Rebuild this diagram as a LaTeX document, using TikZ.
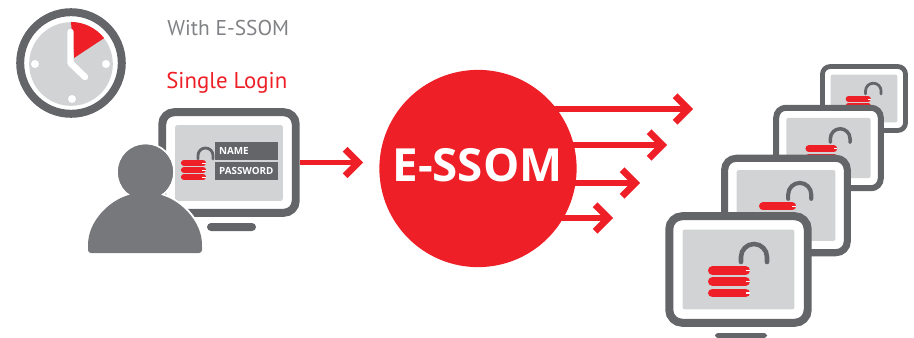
\documentclass[tikz,border=0pt]{standalone}
\usepackage{fontspec}
\setmainfont{PT Sans}
\newfontfamily\boldface{Open Sans}
\usetikzlibrary{arrows.meta}
\definecolor{ssomred}{HTML}{EE1F26}
\definecolor{frameg}{HTML}{636569}
\definecolor{persong}{HTML}{77787B}
\definecolor{screeng}{HTML}{D1D3D4}
\definecolor{textg}{HTML}{808285}
\def\px{0.567pt}
\begin{document}
\begin{tikzpicture}[x=0.02cm,y=-0.02cm,
  monitor/.style={draw=frameg,fill=white,shape=rectangle,inner sep=0pt},
  screen/.style={fill=screeng,shape=rectangle,inner sep=0pt,rounded corners=2*\px},
  field/.style={fill=frameg,text=white,shape=rectangle,inner ysep=0pt,inner xsep=4*\px,text width=55*\px,align=left,minimum height=18*\px,font=\boldface\fontsize{5.6pt}{6pt}\selectfont\bfseries},
  shackle/.style={draw=frameg,line cap=round},
  bar/.style={draw=ssomred,line cap=round},
  flow/.style={draw=ssomred,line width=6*\px,-{Straight Barb[length=7.5pt,width=15pt,line width=3.8pt]}},
  caption/.style={anchor=base west,inner sep=0pt,font=\fontsize{12.2pt}{14pt}\selectfont}]
\useasboundingbox (0,0) rectangle (914,338);

\node[shape=circle,draw=frameg,fill=white,line width=8*\px,inner sep=0pt,minimum size=102*\px] (clockring) at (71,63) {};
\node[shape=circle,fill=screeng,inner sep=0pt,minimum size=84*\px] (clockface) at (71,64) {};
\fill[ssomred] (74,58) -- (71,22) arc[start angle=270,end angle=322,radius=42] -- cycle;
\draw[white,line width=6.5*\px,line cap=round,line join=round] (70.5,32) -- (70.5,63) -- (85,77);
\fill[white] (35,64) circle (4);
\fill[white] (106,64) circle (4);
\fill[white] (72,99) circle (4);

\node[caption,text=textg] (withlabel) at (167,35) {With E-SSOM};
\node[caption,text=ssomred,font=\fontsize{13pt}{15pt}\selectfont] (loginlabel) at (166,89) {Single Login};

\node[monitor,line width=8*\px,minimum width=134*\px,minimum height=101*\px,rounded corners=12*\px] (usermon) at (229,162.5) {};
\node[screen,minimum width=108*\px,minimum height=76*\px] (userscreen) at (229,163) {};
\draw[fill=frameg,draw=none,rounded corners=4*\px] (207,223) rectangle (256,231);
\node[field] (namefield) at (246.5,151) {NAME};
\node[field] (passfield) at (246.5,171) {PASSWORD};
\draw[shackle,line width=2.8*\px] (198,159) -- (198,155.5) arc[start angle=180,end angle=360,radius=7.5] -- (213,159);
\draw[bar,line width=6.2*\px] (184,163) -- (203,163);
\draw[bar,line width=6.2*\px] (184,170) -- (203,170);
\draw[bar,line width=6.2*\px] (184,177) -- (203,177);
\draw[white,line width=0.8*\px] (202,163) -- (206,163);
\draw[white,line width=0.8*\px] (202,170) -- (206,170);
\draw[white,line width=0.8*\px] (202,177) -- (206,177);

\fill[persong,preaction={draw=white,line width=4*\px}] (145.5,172) circle (27.5);
\fill[persong,preaction={draw=white,line width=4*\px},rounded corners=3*\px] (88,253) -- (88,244) .. controls (90,218) and (115,193) .. (145,193) .. controls (175,193) and (200,218) .. (202,244) -- (202,253) -- cycle;
\fill[persong] (145.5,172) circle (27.5);

\coordinate (logintip) at (363,162.5);
\draw[flow] (usermon.east) -- (logintip);

\node[shape=circle,fill=ssomred,inner sep=0pt,minimum size=198*\px] (essom) at (478,168.5) {};
\coordinate (tipa) at (693,109);
\coordinate (tipb) at (667,145);
\coordinate (tipc) at (640,183);
\coordinate (tipd) at (613,218);
\draw[flow] (essom.center |- tipa) -- (tipa);
\draw[flow] (essom.center |- tipb) -- (tipb);
\draw[flow] (essom.center |- tipc) -- (tipc);
\draw[flow] (essom.center |- tipd) -- (tipd);
\node[anchor=base,inner sep=0pt,text=white,font=\boldface\fontsize{26pt}{30pt}\selectfont\bfseries] (essomlabel) at (477.5,181) {E-SSOM};

\foreach \mon/\cx/\cy/\sc in {d/864/98.5/0.6,c/828.5/148/0.755,b/786/205.5/0.886,a/738.5/269.5/1}{
  \node[monitor,line width=8*\sc*\px,minimum width=139*\sc*\px,minimum height=107*\sc*\px,rounded corners=13*\sc*\px] (mon\mon) at (\cx,\cy) {};
  \node[screen,minimum width=112*\sc*\px,minimum height=80*\sc*\px] (screen\mon) at (\cx,\cy) {};
  \begin{scope}[shift={(\cx,\cy)},scale=\sc]
    \draw[shackle,line width=4.6*\sc*\px] (2.5,-7.5) -- (2.5,-12.5) arc[start angle=180,end angle=360,radius=13] -- (28.5,-7.5);
    \draw[bar,line width=9*\sc*\px] (-26,1) -- (7,1);
    \draw[bar,line width=9*\sc*\px] (-26,12) -- (7,12);
    \draw[bar,line width=9*\sc*\px] (-26,23.5) -- (7,23.5);
    \draw[white,line width=1.2*\sc*\px] (7,1) -- (11.5,1);
    \draw[white,line width=1.2*\sc*\px] (7,12) -- (11.5,12);
    \draw[white,line width=1.2*\sc*\px] (7,23.5) -- (11.5,23.5);
  \end{scope}
}
\draw[fill=frameg,draw=none,rounded corners=3*\px] (715,338) -- (715,333) -- (767,333) -- (767,338) -- cycle;
\end{tikzpicture}
\end{document}
